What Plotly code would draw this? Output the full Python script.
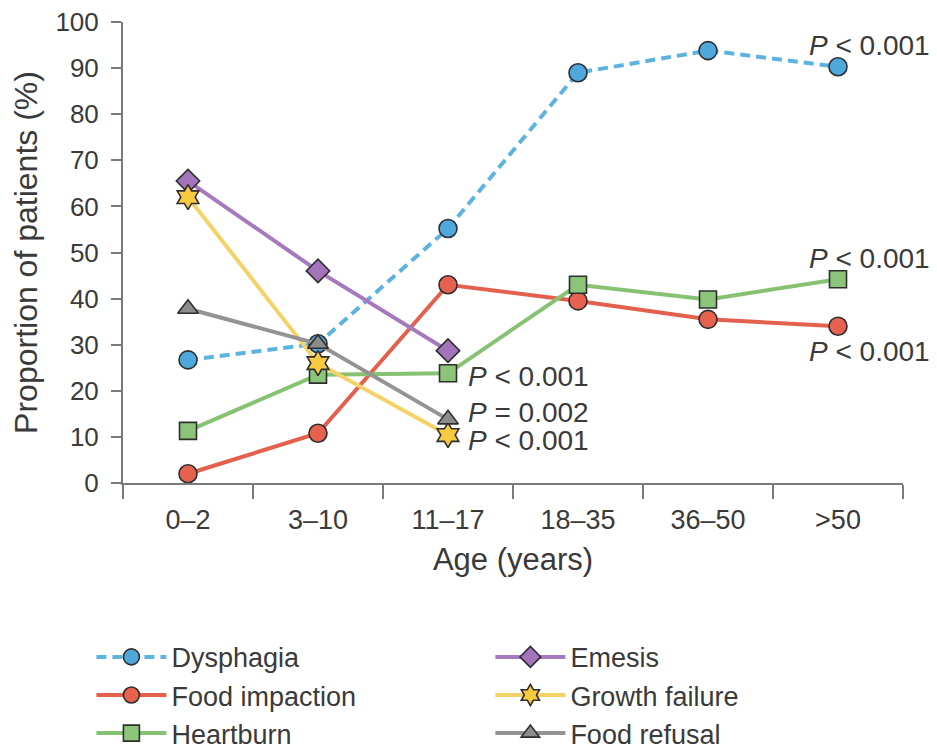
import plotly.graph_objects as go

ages = ["0–2", "3–10", "11–17", "18–35", "36–50", ">50"]

dysphagia = [26.7, 30.2, 55.2, 89.0, 93.8, 90.3]
food_impaction = [2.0, 10.8, 43.0, 39.5, 35.5, 34.0]
heartburn = [11.3, 23.5, 23.8, 43.0, 39.8, 44.2]
emesis = [65.5, 46.0, 28.7]
growth_failure = [62.0, 26.0, 10.4]
food_refusal = [37.8, 30.2, 13.8]

p_labels = ["<i>P</i> < 0.001", "<i>P</i> = 0.002"]

FONT = "Liberation Sans, Arial, sans-serif"
TXT = "#3a3a3a"
OUT = "#2e2e2e"

series = [
    # name, values, line color, marker color, symbol, dash, legend
    ("Dysphagia", dysphagia, "#5DB3E0", "#4EA8DC", "circle", "10px,6px", "legend"),
    ("Food impaction", food_impaction, "#E3604D", "#E6624F", "circle", "solid", "legend"),
    ("Heartburn", heartburn, "#86C272", "#8CC47A", "square", "solid", "legend"),
    ("Emesis", emesis, "#A678BD", "#A373BB", "diamond", "solid", "legend2"),
    ("Growth failure", growth_failure, "#F4D268", "#F8CA3F", "hexagram", "solid", "legend2"),
    ("Food refusal", food_refusal, "#939393", "#8C8C8C", "triangle-up", "solid", "legend2"),
]

sizes = {"circle": 18, "square": 17, "diamond": 18, "hexagram": 19, "triangle-up": 18}

fig = go.Figure()
for name, vals, lc, mc, sym, dash, lg in series:
    fig.add_trace(go.Scatter(
        x=ages[:len(vals)], y=vals, name=name, mode="lines+markers",
        line=dict(color=lc, width=4, dash=dash),
        marker=dict(symbol=sym, size=sizes[sym], color=mc,
                    line=dict(color=OUT, width=1.6)),
        cliponaxis=False, legend=lg,
    ))

ann_font = dict(family=FONT, size=28, color=TXT)
annots = [
    (ages[5], dysphagia[5], p_labels[0], -31, 21),
    (ages[5], heartburn[5], p_labels[0], -31, 21),
    (ages[5], food_impaction[5], p_labels[0], -31, -25),
    (ages[2], heartburn[2], p_labels[0], 18, -3),
    (ages[2], food_refusal[2], p_labels[1], 18, 7),
    (ages[2], growth_failure[2], p_labels[0], 18, -5),
]
for x, y, t, xs, ys in annots:
    fig.add_annotation(x=x, y=y, text=t, showarrow=False, xanchor="left",
                       yanchor="middle", xshift=xs, yshift=ys, font=ann_font)

fig.update_layout(
    width=929, height=743,
    margin=dict(l=115, r=34, t=14, b=268, autoexpand=False),
    paper_bgcolor="white", plot_bgcolor="white",
    font=dict(family=FONT, color=TXT),
    xaxis=dict(
        type="category", categoryorder="array", categoryarray=ages,
        range=[-0.5, 5.5], tickson="boundaries", ticks="outside",
        ticklen=14, tickwidth=2, tickcolor="#7a7a7a", ticklabelstandoff=12,
        showline=True, linecolor="#7a7a7a", linewidth=2,
        showgrid=False, zeroline=False,
        tickfont=dict(family=FONT, size=27, color=TXT),
        title=dict(text="Age (years)", font=dict(family=FONT, size=31, color=TXT),
                   standoff=14),
    ),
    yaxis=dict(
        range=[0, 100], dtick=10, ticks="outside", ticklen=10, tickwidth=2,
        tickcolor="#7a7a7a", showline=True, linecolor="#7a7a7a", linewidth=2,
        showgrid=False, zeroline=False, ticklabelstandoff=7,
        ticklabeloverflow="allow",
        tickfont=dict(family=FONT, size=26, color=TXT),
        title=dict(text="Proportion of patients (%)",
                   font=dict(family=FONT, size=32, color=TXT), standoff=15),
    ),
    legend=dict(x=-0.0405, y=-0.325, xanchor="left", yanchor="top",
                font=dict(family=FONT, size=27, color=TXT),
                itemwidth=70, tracegroupgap=0, bgcolor="rgba(0,0,0,0)"),
    legend2=dict(x=0.471, y=-0.325, xanchor="left", yanchor="top",
                 font=dict(family=FONT, size=27, color=TXT),
                 itemwidth=70, tracegroupgap=0, bgcolor="rgba(0,0,0,0)"),
)

fig.write_html("out.html")
